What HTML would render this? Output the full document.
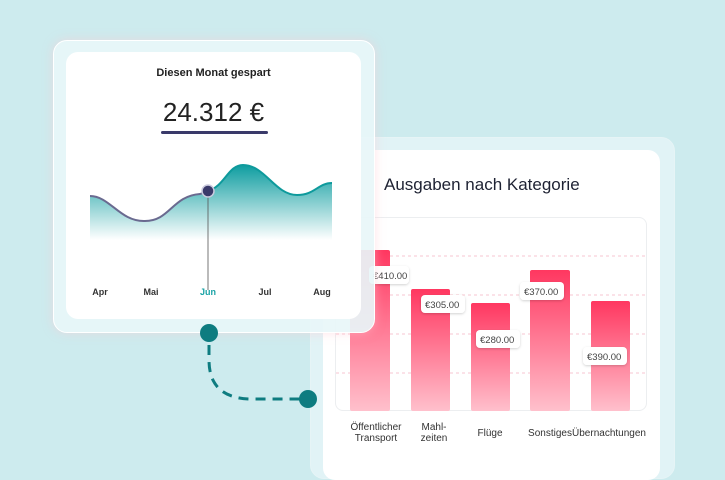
<!DOCTYPE html>
<html><head><style>
body{margin:0;width:725px;height:460px;overflow:hidden;background:#cdebee;font-family:"Liberation Sans",sans-serif;position:relative}
.abs{position:absolute}
</style></head><body>
<div class="abs" style="left:310px;top:137px;width:363px;height:340px;border-radius:14px;background:rgba(230,245,247,0.8);border:1px solid #e6f4f6"></div>
<div class="abs" style="left:323px;top:150px;width:337px;height:330px;border-radius:12px;background:#fff"></div>
<div class="abs" style="left:384px;top:175px;font-size:17px;color:#1e2233">Ausgaben nach Kategorie</div>
<div class="abs" style="left:335px;top:217px;width:312px;height:194px;border:1px solid #eceef0;border-radius:8px;box-sizing:border-box"></div>
<svg class="abs" style="left:0;top:0" width="725" height="460">
<defs>
<linearGradient id="bg" x1="0" y1="0" x2="0" y2="1"><stop offset="0" stop-color="#ff3760"/><stop offset="1" stop-color="#ffc0cc"/></linearGradient>
<linearGradient id="ag" x1="0" y1="0" x2="0" y2="1"><stop offset="0" stop-color="#0e9da0"/><stop offset="1" stop-color="#ffffff"/></linearGradient>
<filter id="sh" x="-20%" y="-40%" width="140%" height="180%"><feDropShadow dx="0" dy="1" stdDeviation="1.2" flood-color="#000" flood-opacity="0.18"/></filter>
</defs>
<g stroke="#f7c6d0" stroke-dasharray="3,3" stroke-width="1">
<line x1="336" y1="256" x2="646" y2="256"/><line x1="336" y1="295" x2="646" y2="295"/><line x1="336" y1="334" x2="646" y2="334"/><line x1="336" y1="373" x2="646" y2="373"/></g>
<rect x="350" y="250" width="40" height="161" rx="2" fill="url(#bg)"/>
<rect x="411" y="289" width="39" height="122" rx="2" fill="url(#bg)"/>
<rect x="471" y="303" width="39" height="108" rx="2" fill="url(#bg)"/>
<rect x="530" y="270" width="40" height="141" rx="2" fill="url(#bg)"/>
<rect x="591" y="301" width="39" height="110" rx="2" fill="url(#bg)"/>
<g font-size="9.5" fill="#444" font-family="Liberation Sans">
<rect x="369" y="266" width="40" height="18" rx="4" fill="#fff" filter="url(#sh)"/><text x="373" y="279">€410.00</text>
<rect x="421" y="295" width="44" height="18" rx="4" fill="#fff" filter="url(#sh)"/><text x="425" y="308">€305.00</text>
<rect x="476" y="330" width="44" height="18" rx="4" fill="#fff" filter="url(#sh)"/><text x="480" y="343">€280.00</text>
<rect x="520" y="282" width="44" height="18" rx="4" fill="#fff" filter="url(#sh)"/><text x="524" y="295">€370.00</text>
<rect x="583" y="347" width="44" height="18" rx="4" fill="#fff" filter="url(#sh)"/><text x="587" y="360">€390.00</text>
</g>
<g font-size="10" fill="#333" font-family="Liberation Sans" text-anchor="middle">
<text x="376" y="430">Öffentlicher</text><text x="376" y="441">Transport</text>
<text x="434" y="430">Mahl-</text><text x="434" y="441">zeiten</text>
<text x="490" y="436">Flüge</text><text x="550" y="436">Sonstiges</text><text x="609" y="436">Übernachtungen</text>
</g>
<path d="M209 345 L209 360 Q209 398 250 399 L300 399" fill="none" stroke="#0e7c80" stroke-width="3" stroke-dasharray="10,7"/>
<circle cx="308" cy="399" r="9" fill="#0e7c80"/>
</svg>
<div class="abs" style="left:53px;top:40px;width:320px;height:291px;border-radius:14px;background:rgba(232,246,248,0.92);border:1px solid #fff;box-shadow:0 0 10px rgba(255,200,210,0.5)"></div>
<div class="abs" style="left:66px;top:52px;width:295px;height:267px;border-radius:12px;background:#fff"></div>
<div class="abs" style="left:66px;top:67px;width:295px;text-align:center;font-size:11px;font-weight:bold;color:#222">Diesen Monat gespart</div>
<div class="abs" style="left:66px;top:97px;width:295px;text-align:center;font-size:26px;color:#222">24.312 €</div>
<div class="abs" style="left:161px;top:131px;width:107px;height:3px;border-radius:2px;background:#3a3a6a"></div>
<svg class="abs" style="left:0;top:0" width="725" height="460">
<defs><linearGradient id="ag2" x1="0" y1="0" x2="0" y2="1"><stop offset="0" stop-color="#0e9da0"/><stop offset="1" stop-color="#ffffff"/></linearGradient></defs>
<path d="M90 196 C110 196 120 222 145 221 C170 221 172 196 200 194 L208 191 C225 186 228 165 243 165 C265 165 275 195 297 195 C315 195 318 183 332 183 L332 240 L90 240 Z" fill="url(#ag2)"/>
<path d="M90 196 C110 196 120 222 145 221 C170 221 172 196 200 194 L208 191" fill="none" stroke="#6a6a90" stroke-width="2"/>
<path d="M208 191 C225 186 228 165 243 165 C265 165 275 195 297 195 C315 195 318 183 332 183" fill="none" stroke="#0e9a9c" stroke-width="2"/>
<line x1="208" y1="191" x2="208" y2="290" stroke="#555" stroke-width="0.8"/>
<circle cx="208" cy="191" r="6" fill="#3a3a6a" stroke="#c9c9dd" stroke-width="1.5"/>
<g font-size="9" font-weight="bold" fill="#333" font-family="Liberation Sans" text-anchor="middle">
<text x="100" y="295">Apr</text><text x="151" y="295">Mai</text><text x="208" y="295" fill="#1aa3a6">Jun</text><text x="265" y="295">Jul</text><text x="322" y="295">Aug</text></g>
<circle cx="209" cy="333" r="9" fill="#0e7c80"/>
</svg>
</body></html>
